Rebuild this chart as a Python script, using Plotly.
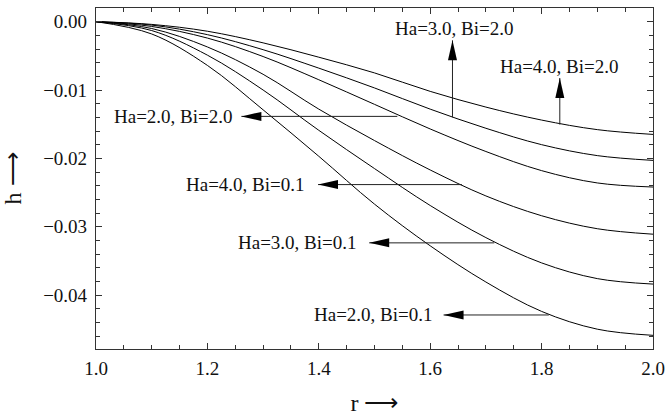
import plotly.graph_objects as go

# ---- data ----
r = [1.0, 1.1, 1.2, 1.3, 1.4, 1.5, 1.6, 1.7, 1.8, 1.9, 2.0]
h_ha4_bi2 = [0, -0.0004, -0.0014, -0.0031, -0.0052, -0.0075, -0.0102, -0.0125, -0.0144, -0.0158, -0.0165]
h_ha3_bi2 = [0, -0.0005, -0.0019, -0.0041, -0.0068, -0.0097, -0.0128, -0.0156, -0.0180, -0.0196, -0.0203]
h_ha2_bi2 = [0, -0.0007, -0.0024, -0.0051, -0.0085, -0.0121, -0.0157, -0.0190, -0.0218, -0.0236, -0.0242]
h_ha4_bi01 = [0, -0.0010, -0.0037, -0.0077, -0.0128, -0.0174, -0.0217, -0.0255, -0.0284, -0.0303, -0.0311]
h_ha3_bi01 = [0, -0.0013, -0.0049, -0.0100, -0.0159, -0.0215, -0.0269, -0.0316, -0.0353, -0.0376, -0.0384]
h_ha2_bi01 = [0, -0.0018, -0.0064, -0.0129, -0.0197, -0.0267, -0.0328, -0.0381, -0.0424, -0.0450, -0.0459]

series = [h_ha4_bi2, h_ha3_bi2, h_ha2_bi2, h_ha4_bi01, h_ha3_bi01, h_ha2_bi01]
series_names = ["Ha=4.0, Bi=2.0", "Ha=3.0, Bi=2.0", "Ha=2.0, Bi=2.0",
                "Ha=4.0, Bi=0.1", "Ha=3.0, Bi=0.1", "Ha=2.0, Bi=0.1"]

x_ticks = [1.0, 1.2, 1.4, 1.6, 1.8, 2.0]
x_tick_labels = ["1.0", "1.2", "1.4", "1.6", "1.8", "2.0"]
y_ticks = [0.0, -0.01, -0.02, -0.03, -0.04]
y_tick_labels = ["0.00", "\u22120.01", "\u22120.02", "\u22120.03", "\u22120.04"]

# ---- label / arrow placement (data coordinates) ----
label_text = ["Ha=4.0, Bi=2.0", "Ha=3.0, Bi=2.0", "Ha=2.0, Bi=2.0",
              "Ha=4.0, Bi=0.1", "Ha=3.0, Bi=0.1", "Ha=2.0, Bi=0.1"]
arrow_tail_r = [1.8327, 1.640, 1.541, 1.657, 1.715, 1.813]
arrow_tail_h = [-0.01506, -0.0140, -0.01386, -0.02384, -0.03237, -0.04292]
arrow_tip_r = [1.8327, 1.640, 1.261, 1.3986, 1.4905, 1.624]
arrow_tip_h = [-0.00825, -0.00273, -0.01386, -0.02384, -0.03237, -0.04292]
arrow_dir = ["up", "up", "left", "left", "left", "left"]
label_r = [1.8315, 1.644, 1.249, 1.379, 1.4727, 1.609]
label_h = [-0.0066, -0.00094, -0.01386, -0.02384, -0.03237, -0.04292]
label_xanchor = ["center", "center", "right", "right", "right", "right"]

SERIF = "Liberation Serif, Times New Roman, serif"

fig = go.Figure()
for ys, nm in zip(series, series_names):
    fig.add_trace(go.Scatter(x=r, y=ys, mode="lines", name=nm,
                             line=dict(color="black", width=1, shape="spline", smoothing=1.0),
                             showlegend=False, hoverinfo="skip"))

shapes = []
annotations = []
head_len, head_half = 20, 4.5
for i in range(len(label_text)):
    shapes.append(dict(type="line", xref="x", yref="y",
                       x0=arrow_tail_r[i], y0=arrow_tail_h[i],
                       x1=arrow_tip_r[i], y1=arrow_tip_h[i],
                       line=dict(color="#222222", width=1)))
    if arrow_dir[i] == "left":
        path = f"M0,0 L{head_len},{-head_half} L{head_len},{head_half} Z"
    else:
        path = f"M0,0 L{-head_half},{-head_len} L{head_half},{-head_len} Z"
    shapes.append(dict(type="path", xref="x", yref="y",
                       xsizemode="pixel", ysizemode="pixel",
                       xanchor=arrow_tip_r[i], yanchor=arrow_tip_h[i],
                       path=path, fillcolor="black", line=dict(width=0)))
    annotations.append(dict(x=label_r[i], y=label_h[i], xref="x", yref="y",
                            text=label_text[i], showarrow=False,
                            xanchor=label_xanchor[i], yanchor="middle",
                            font=dict(family=SERIF, size=19, color="#111111")))

axis_common = dict(showline=True, linecolor="#333333", linewidth=1.2, mirror="allticks",
                   ticks="inside", ticklen=6, tickwidth=1, tickcolor="#333333",
                   showgrid=False, zeroline=False,
                   tickfont=dict(family=SERIF, size=19, color="#111111"))

fig.update_layout(
    width=672, height=419,
    margin=dict(l=96, r=14, t=7, b=65),
    paper_bgcolor="white", plot_bgcolor="white",
    shapes=shapes, annotations=annotations,
    xaxis=dict(range=[1.0, 2.0], tickvals=x_ticks, ticktext=x_tick_labels,
               minor=dict(ticks="inside", ticklen=4, dtick=0.05, tick0=1.0, tickcolor="#333333"),
               title=dict(text="r \u27f6", standoff=16, font=dict(family=SERIF, size=24, color="#111111")),
               ticklabelstandoff=2,
               **axis_common),
    yaxis=dict(range=[-0.0479, 0.002], tickvals=y_ticks, ticktext=y_tick_labels,
               minor=dict(ticks="inside", ticklen=4, dtick=0.002, tick0=0.0, tickcolor="#333333"),
               title=dict(text="h \u27f6", standoff=14, font=dict(family=SERIF, size=24, color="#111111")),
               ticklabelstandoff=4,
               **axis_common),
)

fig.write_html("out.html")
